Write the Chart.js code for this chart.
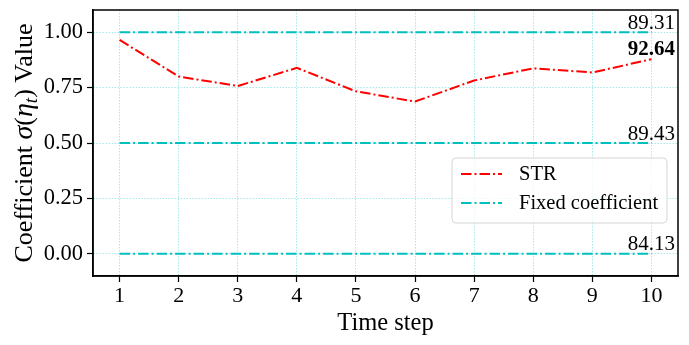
<!DOCTYPE html>
<html>
<head>
<meta charset="utf-8">
<script src="https://cdn.jsdelivr.net/npm/chart.js@4.4.0/dist/chart.umd.min.js"></script>
<style>
  html, body { margin: 0; padding: 0; background: #fff; }
  canvas { display: block; }
</style>
</head>
<body>
<canvas id="coefChart" width="689" height="345"></canvas>
<script>
// ---------- data ----------
const steps       = [1, 2, 3, 4, 5, 6, 7, 8, 9, 10];
const strValues   = [0.965, 0.800, 0.757, 0.839, 0.733, 0.687, 0.782, 0.837, 0.818, 0.878];
const fixedLevels = [1.0, 0.5, 0.0];
const fixedScores = ['89.31', '89.43', '84.13'];
const strScore    = '92.64';
const yTicks      = [0, 0.25, 0.5, 0.75, 1.0];
const seriesNames = ['STR', 'Fixed coefficient'];

// ---------- style ----------
const SERIF = '"Liberation Serif", "Times New Roman", serif';
const RED = '#ff0000', CYAN = '#00bfbf';
const DASH = [10.5, 3, 2, 3];
const GRID = 'rgba(0, 191, 191, 0.35)';

// frame box on all four sides (matplotlib spines)
const frameBox = {
  id: 'frameBox',
  afterDraw(chart) {
    const { ctx, chartArea: a } = chart;
    ctx.save();
    ctx.strokeStyle = '#000';
    ctx.lineWidth = 1.5;
    ctx.strokeRect(a.left, a.top, a.right - a.left, a.bottom - a.top);
    ctx.restore();
  }
};

// score labels near the right end of each fixed line
const scoreLabels = {
  id: 'scoreLabels',
  afterDatasetsDraw(chart) {
    const { ctx, scales: { x, y } } = chart;
    const xr = x.getPixelForValue(steps[steps.length - 1]);
    ctx.save();
    ctx.fillStyle = '#000';
    ctx.textAlign = 'center';
    ctx.textBaseline = 'alphabetic';
    ctx.font = '21px ' + SERIF;
    fixedLevels.forEach((lv, i) => {
      ctx.fillText(fixedScores[i], xr, y.getPixelForValue(lv) - 3.5);
    });
    ctx.font = 'bold 21px ' + SERIF;
    ctx.fillText(strScore, xr, y.getPixelForValue(fixedLevels[0]) + 23);
    ctx.restore();
  }
};

// legend box inside the plot, lower right
const boxLegend = {
  id: 'boxLegend',
  afterDraw(chart) {
    const { ctx, chartArea: a } = chart;
    const w = 215, h = 65;
    const x0 = a.right - 11 - w, y0 = 158;
    ctx.save();
    ctx.beginPath();
    ctx.roundRect(x0, y0, w, h, 4);
    ctx.fillStyle = 'rgba(255,255,255,0.8)';
    ctx.fill();
    ctx.strokeStyle = '#d6d6d6';
    ctx.lineWidth = 1;
    ctx.stroke();
    const colors = [RED, CYAN];
    ctx.font = '20.5px ' + SERIF;
    ctx.textBaseline = 'middle';
    seriesNames.forEach((name, i) => {
      const ly = y0 + 16 + i * 29;
      ctx.beginPath();
      ctx.setLineDash(DASH);
      ctx.strokeStyle = colors[i];
      ctx.lineWidth = 2;
      ctx.moveTo(x0 + 9, ly);
      ctx.lineTo(x0 + 50, ly);
      ctx.stroke();
      ctx.setLineDash([]);
      ctx.fillStyle = '#000';
      ctx.fillText(name, x0 + 67, ly + 1);
    });
    ctx.restore();
  }
};

// rotated y title with math parts: Coefficient σ(η_t) Value
const yTitle = {
  id: 'yTitle',
  afterDraw(chart) {
    const { ctx, chartArea: a } = chart;
    const parts = [
      { t: 'Coefficient ', f: '26px ' + SERIF },
      { t: 'σ', f: 'italic 28px ' + SERIF },
      { t: '(', f: '26px ' + SERIF },
      { t: 'η', f: 'italic 28px ' + SERIF },
      { t: 't', f: 'italic 19px ' + SERIF, dy: 5 },
      { t: ')', f: '26px ' + SERIF },
      { t: ' Value', f: '26px ' + SERIF }
    ];
    ctx.save();
    let total = 0;
    parts.forEach(p => { ctx.font = p.f; p.w = ctx.measureText(p.t).width; total += p.w; });
    ctx.translate(32, (a.top + a.bottom) / 2);
    ctx.rotate(-Math.PI / 2);
    ctx.fillStyle = '#000';
    ctx.textBaseline = 'alphabetic';
    let cx = -total / 2;
    parts.forEach(p => {
      ctx.font = p.f;
      ctx.fillText(p.t, cx, p.dy || 0);
      cx += p.w;
    });
    ctx.restore();
  }
};

const datasets = [{
  label: seriesNames[0],
  data: steps.map((s, i) => ({ x: s, y: strValues[i] })),
  borderColor: RED,
  borderWidth: 2,
  borderDash: DASH,
  pointRadius: 0,
  tension: 0
}];
fixedLevels.forEach(lv => {
  datasets.push({
    label: seriesNames[1],
    data: [steps[0], steps[steps.length - 1]].map(s => ({ x: s, y: lv })),
    borderColor: CYAN,
    borderWidth: 2,
    borderDash: DASH,
    pointRadius: 0
  });
});

new Chart(document.getElementById('coefChart'), {
  type: 'line',
  data: { datasets },
  plugins: [frameBox, scoreLabels, boxLegend, yTitle],
  options: {
    responsive: false,
    animation: false,
    layout: { padding: { top: 10, right: 11, left: 0, bottom: 0 } },
    plugins: { legend: { display: false }, tooltip: { enabled: false } },
    scales: {
      x: {
        type: 'linear',
        min: 0.55, max: 10.45,
        afterBuildTicks: s => { s.ticks = steps.map(v => ({ value: v })); },
        afterFit: s => { s.height = 69; s.paddingLeft = 0; s.paddingRight = 0; },
        ticks: { color: '#000', font: { family: SERIF, size: 22 }, padding: 1, maxRotation: 0 },
        grid: { color: GRID, tickColor: '#000', tickLength: 6, tickWidth: 1.2 },
        border: { color: '#000', width: 1.5, dash: [1.5, 1.5] },
        title: {
          display: true, text: 'Time step', color: '#000',
          font: { family: SERIF, size: 24.5 }, padding: { top: 0, bottom: 7 }
        }
      },
      y: {
        min: -0.1, max: 1.1,
        afterBuildTicks: s => { s.ticks = yTicks.map(v => ({ value: v })); },
        afterFit: s => { s.width = 93; s.paddingTop = 0; s.paddingBottom = 0; },
        ticks: { color: '#000', font: { family: SERIF, size: 22.5 }, padding: 4,
                 callback: v => Number(v).toFixed(2) },
        grid: { color: GRID, tickColor: '#000', tickLength: 6, tickWidth: 1.2 },
        border: { color: '#000', width: 1.5, dash: [1.5, 1.5] }
      }
    }
  }
});
</script>
</body>
</html>
